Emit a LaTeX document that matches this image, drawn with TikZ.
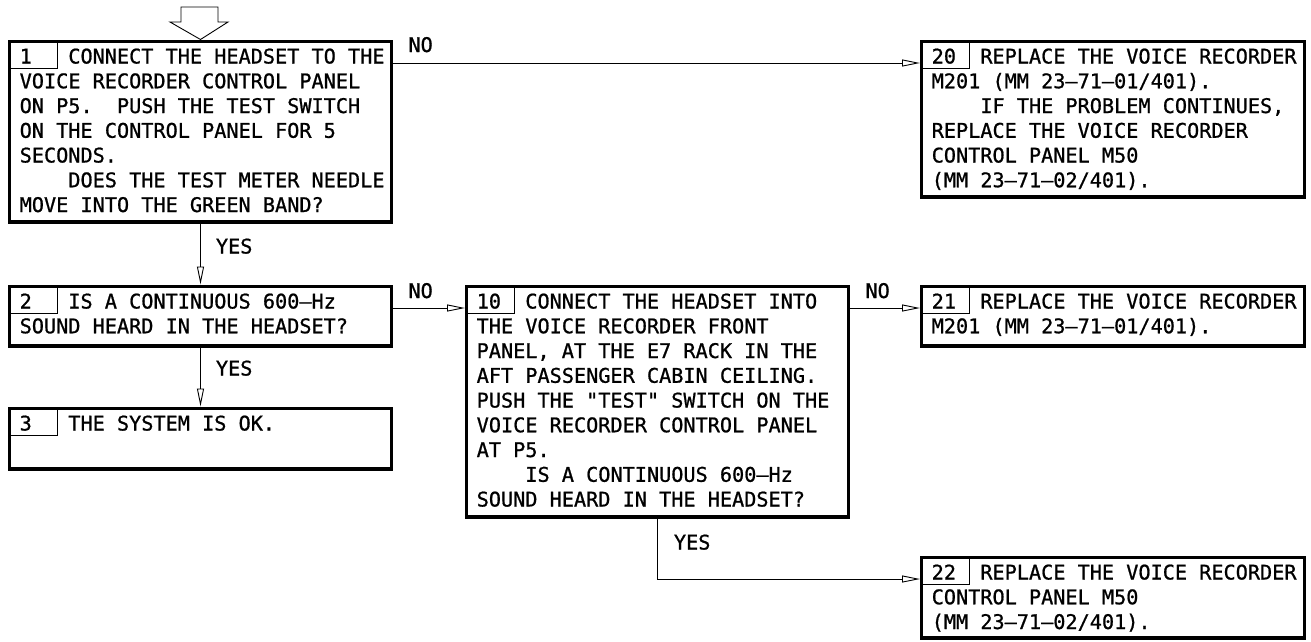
\documentclass[tikz,border=0pt]{standalone}
\usepackage{fontspec}
\newfontfamily\dmono{DejaVu Sans Mono}[FakeBold=0.9]
\usetikzlibrary{arrows.meta}
\newcommand\boxtext[1]{\vtop{\frenchspacing\baselineskip=24.75pt\lineskip=0pt\lineskiplimit=-100pt\halign{##\hfil\cr#1\crcr}}}
\newcommand\nx[1]{\phantom{#1}}
\begin{document}
\begin{tikzpicture}[x=1pt,y=-1pt,
  stepbox/.style={draw, line width=3.2pt, rectangle, inner sep=0pt, anchor=north west},
  txt/.style={font=\dmono\fontsize{20.2}{24.75}\selectfont, inner sep=0pt, anchor=base west},
  lbl/.style={font=\dmono\fontsize{20.2}{24.75}\selectfont, inner sep=0pt, anchor=base west},
  conn/.style={draw, line width=0.9pt, -{Triangle[open, length=18pt, width=7pt, line width=0.9pt]}},
  numline/.style={draw, line width=0.9pt}]
\useasboundingbox (0,0) rectangle (1311,641);

% boxes
\node[stepbox, minimum width=381.8pt, minimum height=180.8pt] (b1) at (8,39.5) {};
\node[stepbox, minimum width=381.8pt, minimum height=59.8pt] (b2) at (8,284.5) {};
\node[stepbox, minimum width=381.8pt, minimum height=60.8pt] (b3) at (8,406.5) {};
\node[stepbox, minimum width=381.8pt, minimum height=230.8pt] (b10) at (465,284.5) {};
\node[stepbox, minimum width=382.8pt, minimum height=155.8pt] (b20) at (920,39.5) {};
\node[stepbox, minimum width=382.8pt, minimum height=59.8pt] (b21) at (920,284.5) {};
\node[stepbox, minimum width=382.8pt, minimum height=80.8pt] (b22) at (920,555.5) {};

% number boxes
\foreach \b in {b1,b2,b3,b10,b20,b21,b22}{
  \draw[numline] ([yshift=-28.5pt]\b.north west) -| ([xshift=49pt]\b.north west);
}

% texts
\node[txt] (t1) at ([xshift=11.5pt,yshift=-24pt]b1.north west) {\boxtext{%
1\nx{XXX}CONNECT THE HEADSET TO THE\cr
VOICE RECORDER CONTROL PANEL\cr
ON P5.\ \ PUSH THE TEST SWITCH\cr
ON THE CONTROL PANEL FOR 5\cr
SECONDS.\cr
\nx{XXXX}DOES THE TEST METER NEEDLE\cr
MOVE INTO THE GREEN BAND?}};

\node[txt] (t2) at ([xshift=11.5pt,yshift=-24pt]b2.north west) {\boxtext{%
2\nx{XXX}IS A CONTINUOUS 600–Hz\cr
SOUND HEARD IN THE HEADSET?}};

\node[txt] (t3) at ([xshift=11.5pt,yshift=-24pt]b3.north west) {\boxtext{%
3\nx{XXX}THE SYSTEM IS OK.}};

\node[txt] (t10) at ([xshift=11.5pt,yshift=-24pt]b10.north west) {\boxtext{%
10\nx{XX}CONNECT THE HEADSET INTO\cr
THE VOICE RECORDER FRONT\cr
PANEL, AT THE E7 RACK IN THE\cr
AFT PASSENGER CABIN CEILING.\cr
PUSH THE "TEST" SWITCH ON THE\cr
VOICE RECORDER CONTROL PANEL\cr
AT P5.\cr
\nx{XXXX}IS A CONTINUOUS 600–Hz\cr
SOUND HEARD IN THE HEADSET?}};

\node[txt] (t20) at ([xshift=11.5pt,yshift=-24pt]b20.north west) {\boxtext{%
20\nx{XX}REPLACE THE VOICE RECORDER\cr
M201 (MM 23–71–01/401).\cr
\nx{XXXX}IF THE PROBLEM CONTINUES,\cr
REPLACE THE VOICE RECORDER\cr
CONTROL PANEL M50\cr
(MM 23–71–02/401).}};

\node[txt] (t21) at ([xshift=11.5pt,yshift=-24pt]b21.north west) {\boxtext{%
21\nx{XX}REPLACE THE VOICE RECORDER\cr
M201 (MM 23–71–01/401).}};

\node[txt] (t22) at ([xshift=11.5pt,yshift=-24pt]b22.north west) {\boxtext{%
22\nx{XX}REPLACE THE VOICE RECORDER\cr
CONTROL PANEL M50\cr
(MM 23–71–02/401).}};

% entry arrow
\draw[line width=0.9pt] (181,7) -- (218,7) -- (218,22) -- (228,22) -- (b1.north) -- (170,22) -- (181,22) -- cycle;

% connectors
\draw[conn] ([yshift=-23.5pt]b1.north east) -- node[lbl,pos=0,xshift=15pt,yshift=11pt] (no1) {NO} ([yshift=-23.5pt]b20.north west);
\draw[conn] (b1.south) -- node[lbl,pos=0,xshift=15pt,yshift=-30pt] (yes1) {YES} (b2.north);
\draw[conn] (b2.south) -- node[lbl,pos=0,xshift=15pt,yshift=-28pt] (yes2) {YES} (b3.north);
\draw[conn] ([yshift=-23.5pt]b2.north east) -- node[lbl,pos=0,xshift=15pt,yshift=10pt] (no2) {NO} ([yshift=-23.5pt]b10.north west);
\draw[conn] ([yshift=-23.5pt]b10.north east) -- node[lbl,pos=0,xshift=15pt,yshift=10pt] (no3) {NO} ([yshift=-23.5pt]b21.north west);
\draw[conn] (b10.south) |- node[lbl,pos=0,xshift=16pt,yshift=-31pt] (yes3) {YES} ([yshift=-23.5pt]b22.north west);
\end{tikzpicture}
\end{document}
